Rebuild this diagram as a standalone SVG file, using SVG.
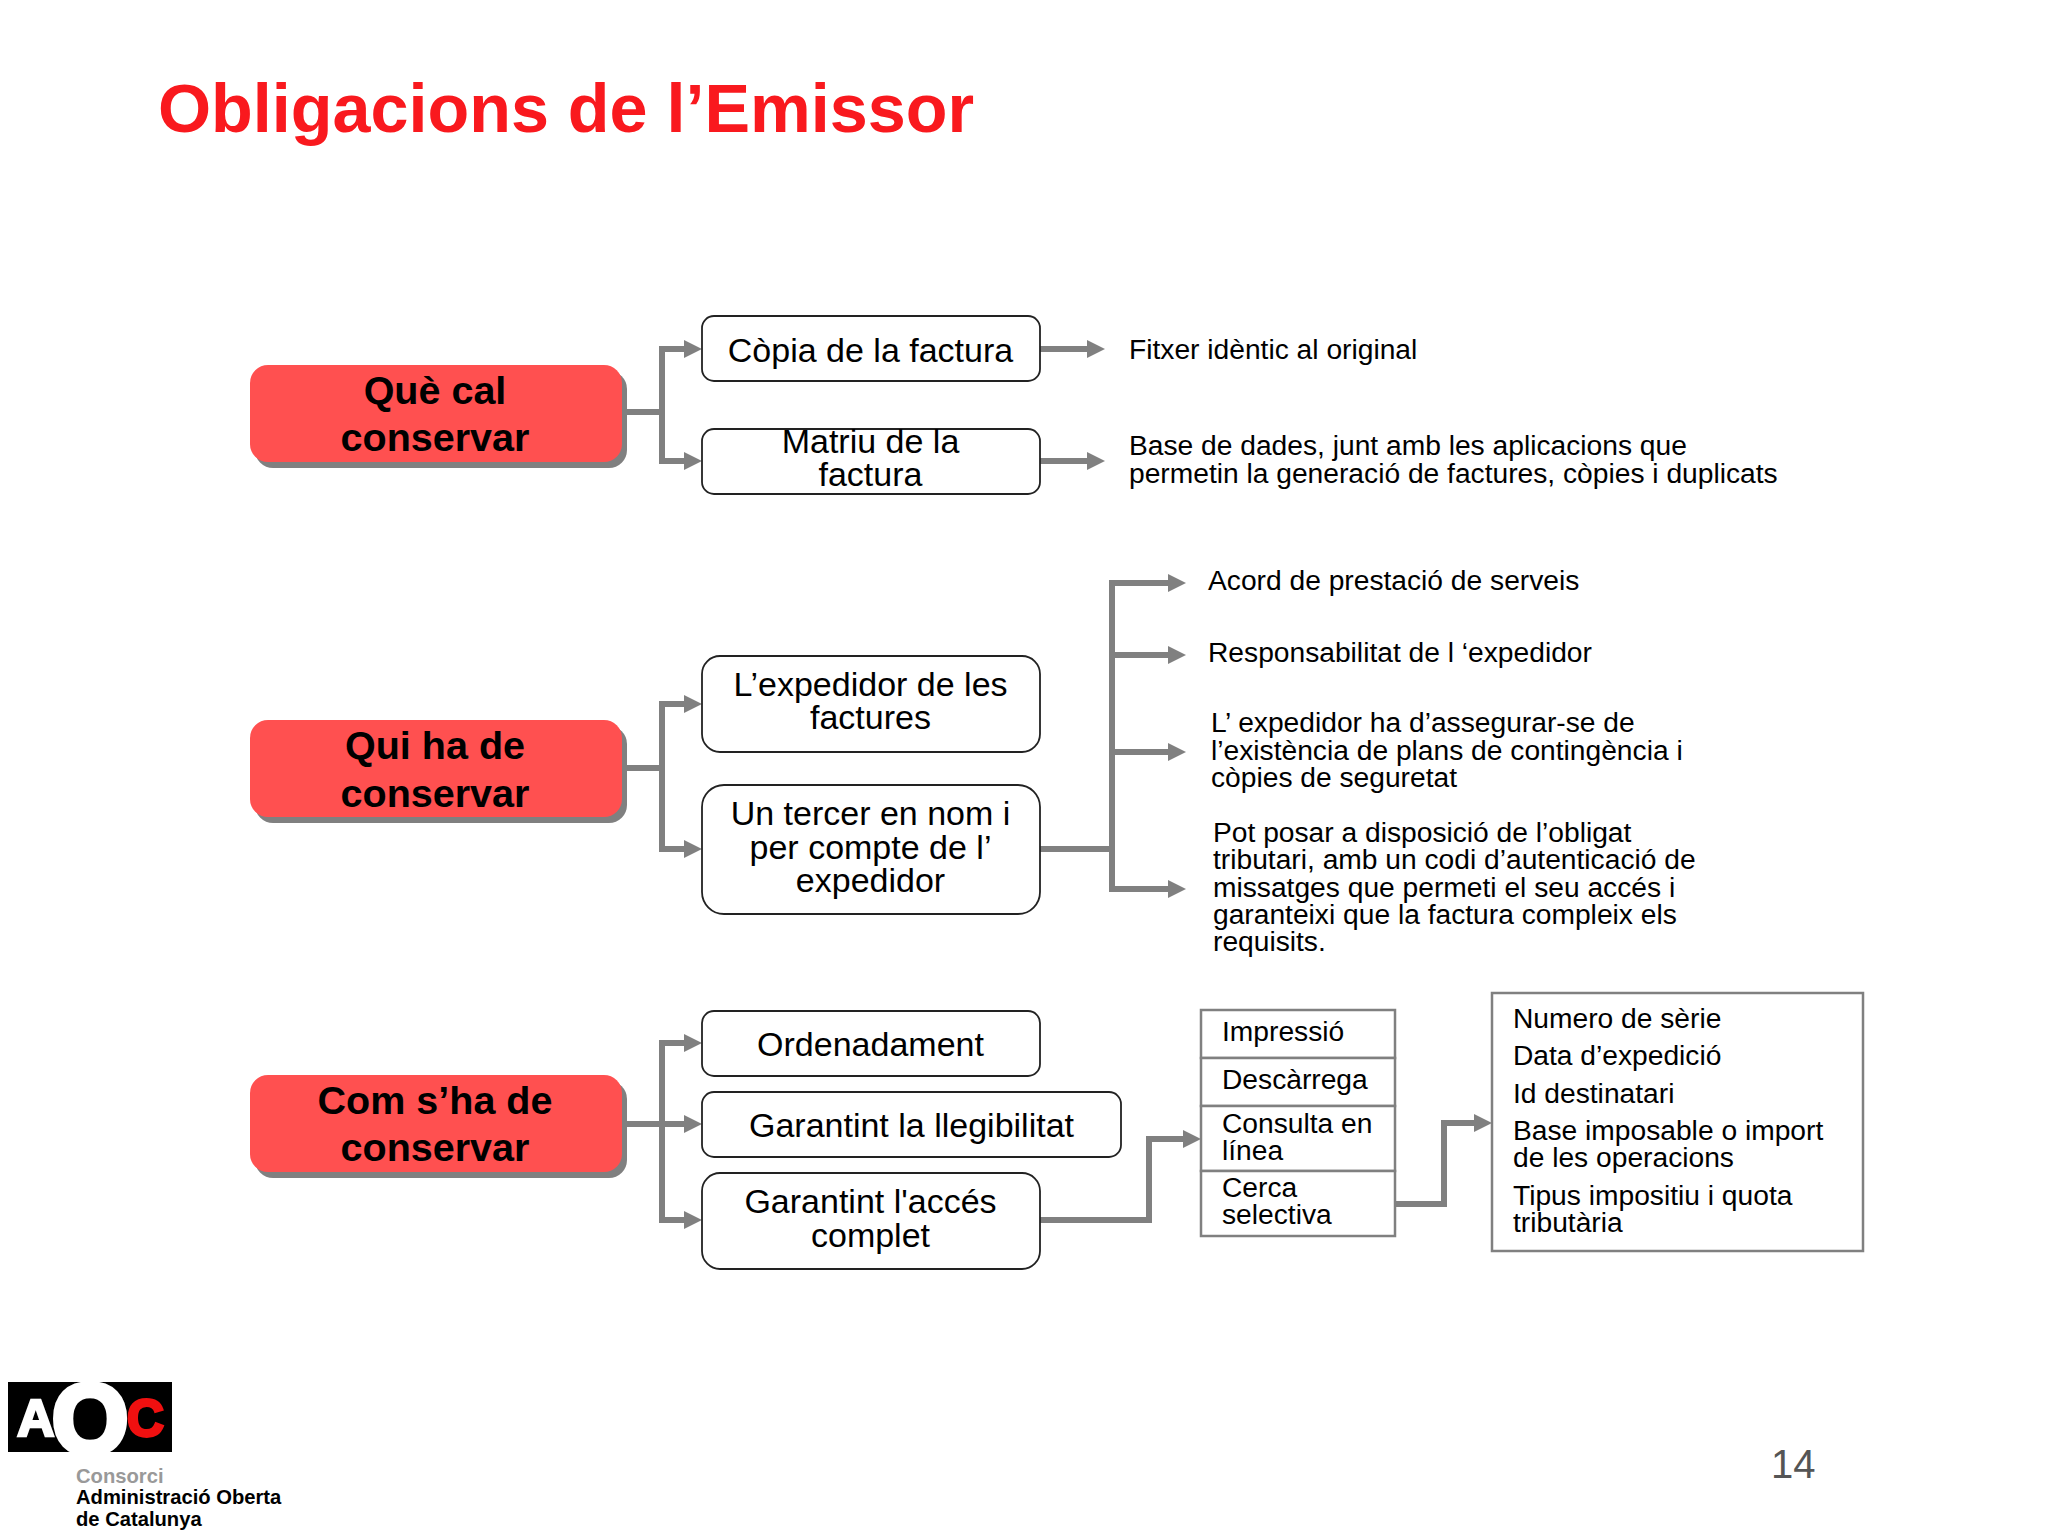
<svg xmlns="http://www.w3.org/2000/svg" width="2048" height="1536" viewBox="0 0 2048 1536">
<style>
text{font-family:"Liberation Sans",Arial,sans-serif;fill:#000}
.title{font-size:68.3px;font-weight:700;fill:#f9191e}
.red{fill:#ff5050}
.shadow{fill:#808080}
.rt{font-size:39.5px;font-weight:700;text-anchor:middle}
.wb{fill:#fff;stroke:#222;stroke-width:1.8}
.bt{font-size:34px;text-anchor:middle}
.st{font-size:28.2px}
.tb{fill:#fff;stroke:#808080;stroke-width:2.5}
.c{fill:none;stroke:#808080;stroke-width:6}
.a{marker-end:url(#ah)}
.l{font-size:20.2px;font-weight:700}
</style>
<defs><marker id="ah" markerUnits="userSpaceOnUse" markerWidth="18" markerHeight="18" refX="3" refY="9" orient="auto" viewBox="0 0 18 18"><path d="M0 0L18 9L0 18Z" fill="#808080"/></marker></defs>
<rect width="2048" height="1536" fill="#fff"/>
<text class="title" x="158" y="132">Obligacions de l’Emissor</text>
<g id="connectors">
<path class="c" d="M627 412H662"/><path class="c a" d="M662 461V349H687"/><path class="c a" d="M662 349V461H687"/>
<path class="c a" d="M1040 349H1090"/><path class="c a" d="M1040 461H1090"/>
<path class="c" d="M627 768H662"/><path class="c a" d="M662 768V704H687"/><path class="c a" d="M662 768V849H687"/>
<path class="c" d="M1040 849H1112"/><path class="c a" d="M1112 849V583H1171"/><path class="c a" d="M1112 655H1171"/><path class="c a" d="M1112 752H1171"/><path class="c a" d="M1112 583V889H1171"/>
<path class="c" d="M627 1124H662"/><path class="c a" d="M662 1124V1043H687"/><path class="c a" d="M662 1124H687"/><path class="c a" d="M662 1124V1220H687"/>
<path class="c a" d="M1040 1220H1149V1139H1186"/>
<path class="c a" d="M1395 1204H1444V1123H1477"/>
</g>
<g id="n-que"><rect class="shadow" x="255" y="371" width="372" height="97" rx="18"/><rect class="red" x="250" y="365" width="372" height="97" rx="18"/><text class="rt" x="435" y="404">Què cal</text><text class="rt" x="435" y="451">conservar</text></g>
<g id="n-qui"><rect class="shadow" x="255" y="726" width="372" height="97" rx="18"/><rect class="red" x="250" y="720" width="372" height="97" rx="18"/><text class="rt" x="435" y="759">Qui ha de</text><text class="rt" x="435" y="807">conservar</text></g>
<g id="n-com"><rect class="shadow" x="255" y="1081" width="372" height="97" rx="18"/><rect class="red" x="250" y="1075" width="372" height="97" rx="18"/><text class="rt" x="435" y="1114">Com s’ha de</text><text class="rt" x="435" y="1161">conservar</text></g>
<g id="n-copia"><rect class="wb" x="702" y="316" width="338" height="65" rx="12"/><text class="bt" x="870.5" y="362">Còpia de la factura</text></g>
<g id="n-matriu"><rect class="wb" x="702" y="429" width="338" height="65" rx="12"/><text class="bt" x="870.5" y="453">Matriu de la</text><text class="bt" x="870.5" y="486">factura</text></g>
<g id="n-expedidor"><rect class="wb" x="702" y="656" width="338" height="96" rx="18"/><text class="bt" x="870.5" y="696">L’expedidor de les</text><text class="bt" x="870.5" y="729">factures</text></g>
<g id="n-tercer"><rect class="wb" x="702" y="785" width="338" height="129" rx="22"/><text class="bt" x="870.5" y="825">Un tercer en nom i</text><text class="bt" x="870.5" y="859">per compte de l’</text><text class="bt" x="870.5" y="892">expedidor</text></g>
<g id="n-ordena"><rect class="wb" x="702" y="1011" width="338" height="65" rx="12"/><text class="bt" x="870.5" y="1056">Ordenadament</text></g>
<g id="n-llegib"><rect class="wb" x="702" y="1092" width="419" height="65" rx="12"/><text class="bt" x="911.5" y="1137">Garantint la llegibilitat</text></g>
<g id="n-acces"><rect class="wb" x="702" y="1173" width="338" height="96" rx="18"/><text class="bt" x="870.5" y="1213">Garantint l'accés</text><text class="bt" x="870.5" y="1247">complet</text></g>
<g id="t-side">
<text class="st" x="1129" y="359">Fitxer idèntic al original</text>
<text class="st" x="1129" y="455">Base de dades, junt amb les aplicacions que</text>
<text class="st" x="1129" y="483">permetin la generació de factures, còpies i duplicats</text>
<text class="st" x="1208" y="590">Acord de prestació de serveis</text>
<text class="st" x="1208" y="662">Responsabilitat de l ‘expedidor</text>
<text class="st" x="1211" y="732">L’ expedidor ha d’assegurar-se de</text>
<text class="st" x="1211" y="760">l’existència de plans de contingència i</text>
<text class="st" x="1211" y="787">còpies de seguretat</text>
<text class="st" x="1213" y="842">Pot posar a disposició de l’obligat</text>
<text class="st" x="1213" y="869">tributari, amb un codi d’autenticació de</text>
<text class="st" x="1213" y="897">missatges que permeti el seu accés i</text>
<text class="st" x="1213" y="924">garanteixi que la factura compleix els</text>
<text class="st" x="1213" y="951">requisits.</text>
</g>
<g id="n-canals">
<rect class="tb" x="1201" y="1010" width="194" height="48"/><rect class="tb" x="1201" y="1058" width="194" height="48"/><rect class="tb" x="1201" y="1106" width="194" height="65"/><rect class="tb" x="1201" y="1171" width="194" height="65"/>
<text class="st" x="1222" y="1041">Impressió</text><text class="st" x="1222" y="1089">Descàrrega</text><text class="st" x="1222" y="1133">Consulta en</text><text class="st" x="1222" y="1160">línea</text><text class="st" x="1222" y="1197">Cerca</text><text class="st" x="1222" y="1224">selectiva</text>
</g>
<g id="n-camps">
<rect class="tb" x="1492" y="993" width="371" height="258"/>
<text class="st" x="1513" y="1028">Numero de sèrie</text><text class="st" x="1513" y="1065">Data d’expedició</text><text class="st" x="1513" y="1103">Id destinatari</text><text class="st" x="1513" y="1140">Base imposable o import</text><text class="st" x="1513" y="1167">de les operacions</text><text class="st" x="1513" y="1205">Tipus impositiu i quota</text><text class="st" x="1513" y="1232">tributària</text>
</g>
<text x="1771" y="1478" font-size="40" style="fill:#555">14</text>
<g id="logo">
<rect x="8" y="1382" width="164" height="70" fill="#000"/>
<text x="17" y="1436" font-size="52" font-weight="700" stroke="#fff" stroke-width="2.5" style="fill:#fff">A</text>
<text x="90" y="1453" font-size="98" font-weight="700" text-anchor="middle" stroke="#fff" stroke-width="6" style="fill:#fff">O</text>
<text x="127" y="1436" font-size="51" font-weight="700" stroke="#f01010" stroke-width="3" style="fill:#f01010">C</text>
<text class="l" x="76" y="1483" style="fill:#999">Consorci</text>
<text class="l" x="76" y="1504">Administració Oberta</text>
<text class="l" x="76" y="1526">de Catalunya</text>
</g>
</svg>
